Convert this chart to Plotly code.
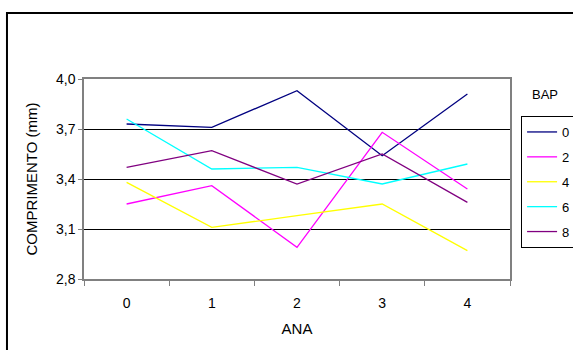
import plotly.graph_objects as go

# ANA levels on the x axis, BAP levels as series
ana = ["0", "1", "2", "3", "4"]
bap_labels = ["0", "2", "4", "6", "8"]
bap_0 = [3.73, 3.71, 3.93, 3.54, 3.91]
bap_2 = [3.25, 3.36, 2.99, 3.68, 3.34]
bap_4 = [3.38, 3.11, 3.18, 3.25, 2.97]
bap_6 = [3.76, 3.46, 3.47, 3.37, 3.49]
bap_8 = [3.47, 3.57, 3.37, 3.55, 3.26]
y_ticks = [2.8, 3.1, 3.4, 3.7, 4.0]

series = [bap_0, bap_2, bap_4, bap_6, bap_8]
colors = ["#000080", "#FF00FF", "#FFFF00", "#00FFFF", "#800080"]

FONT = "Liberation Sans, Arial, sans-serif"

fig = go.Figure()
for name, vals, col in zip(bap_labels, series, colors):
    fig.add_trace(go.Scatter(
        x=ana, y=vals, name=name, legendgroup=name, mode="lines",
        line=dict(color=col, width=1.3),
    ))

fig.update_layout(
    width=573, height=350,
    margin=dict(l=84, r=63, t=79, b=71, autoexpand=False),
    paper_bgcolor="white", plot_bgcolor="white",
    separators=",.",
    font=dict(family=FONT, size=14, color="black"),
    showlegend=True,
    legend=dict(
        x=1.026, y=0.815, xanchor="left", yanchor="top",
        bordercolor="black", borderwidth=1,
        font=dict(size=13), itemwidth=30,
        tracegroupgap=5,
    ),
    annotations=[dict(
        text="BAP", xref="paper", yref="paper", x=1.082, y=0.9225,
        xanchor="center", yanchor="middle", showarrow=False,
        font=dict(size=13),
    )],
    shapes=[dict(
        type="rect", xref="paper", yref="paper",
        x0=-0.1808, x1=1.2, y0=-0.5, y1=1.33,
        line=dict(color="black", width=2), layer="below",
    )],
)

fig.update_xaxes(
    type="category", categoryorder="array", categoryarray=ana,
    range=[-0.5, 4.5],
    tickson="boundaries", ticks="outside", ticklen=5, tickcolor="#808080",
    ticklabelstandoff=10,
    showline=True, linecolor="#808080", linewidth=1.5, mirror=True,
    showgrid=False, zeroline=False,
    title=dict(text="ANA", standoff=14, font=dict(size=15)),
    tickfont=dict(size=14),
)
fig.update_yaxes(
    range=[2.8, 4.0], tickvals=y_ticks, tickformat=".1f",
    ticks="outside", ticklen=4, tickcolor="#808080",
    showline=True, linecolor="#808080", linewidth=1.5, mirror=True,
    showgrid=True, gridcolor="black", gridwidth=1, zeroline=False,
    title=dict(text="COMPRIMENTO (mm)", standoff=15, font=dict(size=15)),
    tickfont=dict(size=14),
)

fig.write_html("out.html")
